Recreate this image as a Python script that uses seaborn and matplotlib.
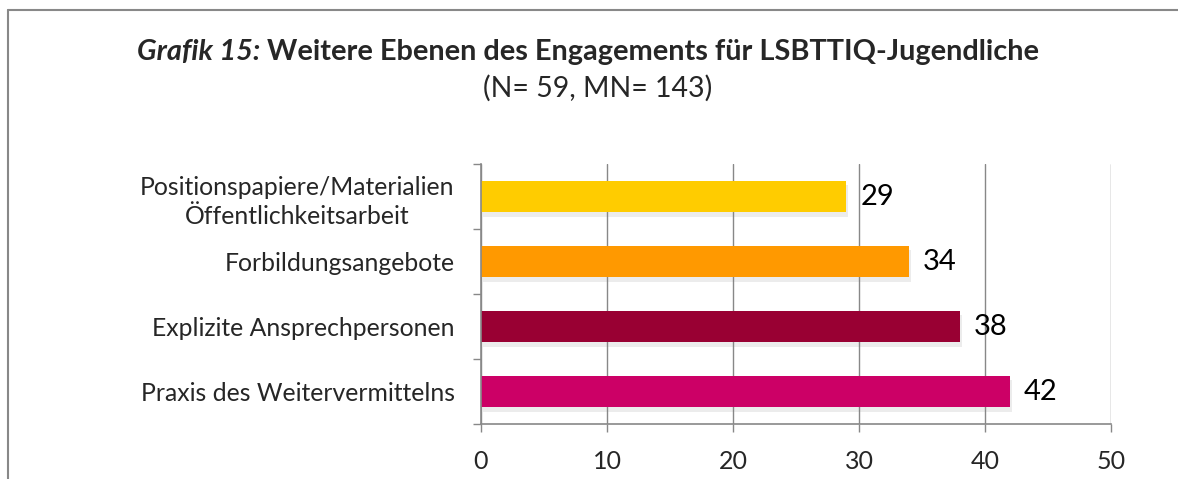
import pandas as pd
import numpy as np
import seaborn as sns
import matplotlib.pyplot as plt
import matplotlib.patheffects as pe
from matplotlib.lines import Line2D

# Chart data
categories = ["Positionspapiere/Materialien\nÖffentlichkeitsarbeit",
              "Forbildungsangebote",
              "Explizite Ansprechpersonen",
              "Praxis des Weitervermittelns"]
values = [29, 34, 38, 42]
bar_colors = ["#FFCC00", "#FF9900", "#990033", "#CC0066"]
x_ticks = [0, 10, 20, 30, 40, 50]

title_italic = "Grafik 15:"
title_rest = " Weitere Ebenen des Engagements für LSBTTIQ-Jugendliche"
subtitle = "(N= 59, MN= 143)"

sns.set_style("white")
plt.rcParams['font.family'] = ['Lato', 'DejaVu Sans']

df = pd.DataFrame({"Kategorie": categories, "Anzahl": values})

fig = plt.figure(figsize=(11.78, 4.79), dpi=100)
ax = fig.add_axes([0.4083, 0.1148, 0.5348, 0.5428])

sns.barplot(data=df, y="Kategorie", x="Anzahl", hue="Kategorie",
            palette=bar_colors, width=0.49, legend=False, ax=ax,
            saturation=1)

# soft drop shadow like the office chart
for p in ax.patches:
    p.set_path_effects([pe.SimplePatchShadow(offset=(1.5, -3), alpha=0.15, shadow_rgbFace="gray"),
                        pe.Normal()])
    p.set_edgecolor("none")

for c in ax.containers:
    ax.bar_label(c, padding=10, fontsize=21, color="black")

ax.set_xlim(0, 50)
ax.set_ylim(3.5, -0.5)
ax.set_xticks(x_ticks)
ax.set_xlabel("")
ax.set_ylabel("")
ax.grid(axis="x", color="#888888", linewidth=1)
ax.set_axisbelow(True)

for s in ["top", "right"]:
    ax.spines[s].set_visible(False)
for s in ["left", "bottom"]:
    ax.spines[s].set_color("#888888")
    ax.spines[s].set_linewidth(1.2)

ax.tick_params(axis="x", length=6, color="#888888", width=1, labelsize=18, pad=13, bottom=True)
ax.tick_params(axis="y", which="major", length=0, labelsize=17.8, pad=19)
ax.set_yticks(np.arange(-0.5, 4, 1), minor=True)
ax.tick_params(axis="y", which="minor", length=6, color="#888888", width=1, left=True)
for lbl in ax.get_yticklabels():
    lbl.set_multialignment("center")
    lbl.set_linespacing(1.35)

# title: italic part + bold part, centered together
fig.canvas.draw()
r = fig.canvas.get_renderer()
t1 = fig.text(0, 1 - 52 / 479, title_italic, fontsize=20.8, fontweight="bold", fontstyle="italic",
              ha="left", va="center")
t2 = fig.text(0, 1 - 52 / 479, title_rest, fontsize=20.8, fontweight="bold", ha="left", va="center")
w1 = t1.get_window_extent(r).width
w2 = t2.get_window_extent(r).width
x0 = 588 - (w1 + w2) / 2
t1.set_x(x0 / 1178)
t2.set_x((x0 + w1) / 1178)
fig.text(598 / 1178, 1 - 88 / 479, subtitle, fontsize=20.5, ha="center", va="center")

# frame lines at top and left
fig.add_artist(Line2D([8 / 1178, 1], [1 - 10 / 479, 1 - 10 / 479], color="#888888", linewidth=1.5))
fig.add_artist(Line2D([8 / 1178, 8 / 1178], [0, 1 - 10 / 479], color="#888888", linewidth=1.5))

fig.savefig("out.png", dpi=100)
